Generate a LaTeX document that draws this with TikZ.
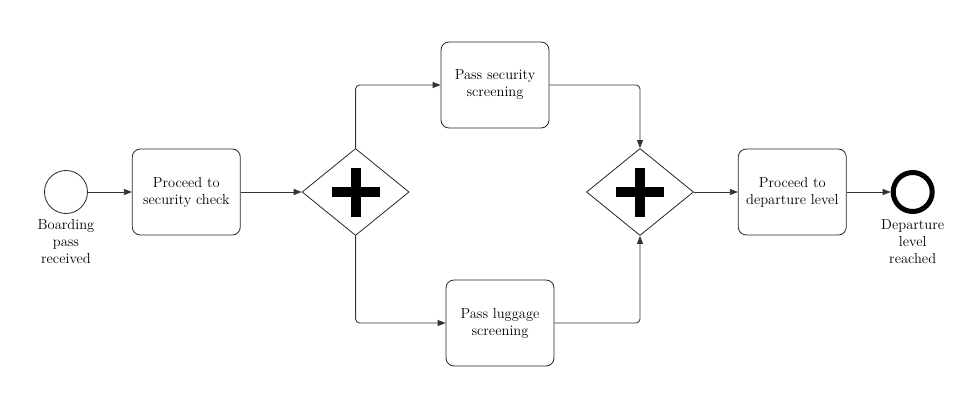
\documentclass[tikz,border=0pt]{standalone}
\usetikzlibrary{arrows.meta, positioning, shapes.geometric}
\tikzset{parallel/.style={path picture={
  \fill (path picture bounding box.center) +(-24pt,-5pt) rectangle +(24pt,5pt);
  \fill (path picture bounding box.center) +(-5pt,-24.5pt) rectangle +(5pt,24.5pt);}}}

\begin{document}
\begin{tikzpicture}[x=1pt, y=-1pt, node distance=44pt,
  every node/.style={font=\fontsize{14.5}{17}\selectfont, align=center},
  task/.style={draw=black!85, line width=0.8pt, rounded corners=8pt, minimum width=108pt, minimum height=86pt, text depth=3pt},
  gateway/.style={draw=black!85, line width=0.8pt, diamond, minimum width=107pt, minimum height=87pt, inner sep=0pt, parallel},
  flow/.style={draw=black!80, line width=0.8pt, -{Triangle[length=8pt,width=6pt]}, rounded corners=4pt}]
\useasboundingbox (0,0) rectangle (978,404);
\node[draw=black!85, line width=0.8pt, circle, minimum size=43pt, inner sep=0pt,
  label={[label distance=2pt]below:Boarding\\pass\\received}] (start) at (66,192) {};
\node[task, right=44pt of start] (check) {Proceed to\\security check};
\node[gateway, right=61pt of check] (fork) {};
\node[task] (security) at (495,85) {Pass security\\screening};
\node[task] (luggage) at (500,323) {Pass luggage\\screening};
\node[gateway] (join) at (640,192) {};
\node[task, right=44pt of join] (departure) {Proceed to\\departure level};
\node[draw=black, line width=5pt, circle, minimum size=39pt, inner sep=0pt, right=44pt of departure,
  label={[label distance=2pt]below:Departure\\level\\reached}] (end) {};
% sequence flows
\draw[flow] (start) -- (check);
\draw[flow] (check) -- (fork);
\draw[flow] (fork.north) |- (security);
\draw[flow] (fork.south) |- (luggage);
\draw[flow] (security) -| (join.north);
\draw[flow] (luggage) -| (join.south);
\draw[flow] (join) -- (departure);
\draw[flow] (departure) -- (end);
\end{tikzpicture}
\end{document}
